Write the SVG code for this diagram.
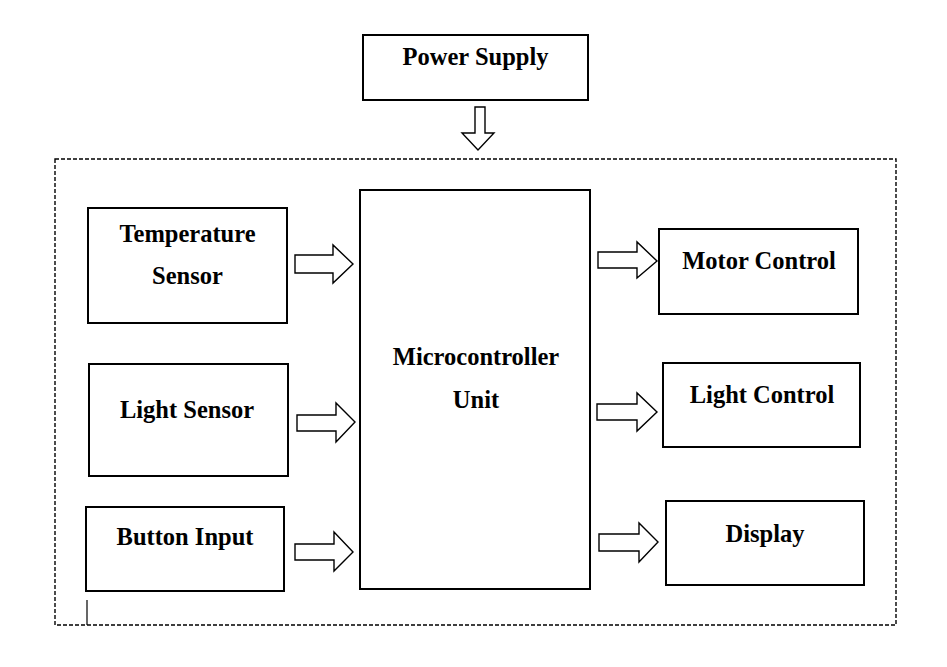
<svg xmlns="http://www.w3.org/2000/svg" width="947" height="667" viewBox="0 0 947 667">
<style>
.box{fill:#fff;stroke:#000;stroke-width:2}
.lbl{font-family:"Liberation Serif","Times New Roman",serif;font-weight:bold;font-size:24.5px;fill:#000;text-anchor:middle}
.arr{fill:#fff;stroke:#000;stroke-width:1.4;stroke-linejoin:miter}
.dash{fill:none;stroke:#000;stroke-width:1.4;stroke-dasharray:4 2}
</style>
<rect width="947" height="667" fill="#fff"/>
<rect id="container" class="dash" x="55" y="159" width="841" height="466"/>
<line x1="87" y1="600" x2="87" y2="625" stroke="#000" stroke-width="1.2"/>
<g id="power-supply">
<rect class="box" x="363" y="35" width="225" height="65"/>
<text class="lbl" x="475.5" y="65">Power Supply</text>
</g>
<g id="temperature-sensor">
<rect class="box" x="88" y="208" width="199" height="115"/>
<text class="lbl" x="187.5" y="242">Temperature</text>
<text class="lbl" x="187.5" y="284">Sensor</text>
</g>
<g id="light-sensor">
<rect class="box" x="89" y="364" width="199" height="112"/>
<text class="lbl" x="187" y="418">Light Sensor</text>
</g>
<g id="button-input">
<rect class="box" x="86" y="507" width="198" height="84"/>
<text class="lbl" x="185" y="545">Button Input</text>
</g>
<g id="mcu">
<rect class="box" x="360" y="190" width="230" height="399"/>
<text class="lbl" x="476" y="365">Microcontroller</text>
<text class="lbl" x="476" y="408">Unit</text>
</g>
<g id="motor-control">
<rect class="box" x="659" y="229" width="199" height="85"/>
<text class="lbl" x="759" y="269">Motor Control</text>
</g>
<g id="light-control">
<rect class="box" x="663" y="363" width="197" height="84"/>
<text class="lbl" x="762" y="403">Light Control</text>
</g>
<g id="display">
<rect class="box" x="666" y="501" width="198" height="84"/>
<text class="lbl" x="765" y="542">Display</text>
</g>
<g id="connectors">
<polygon class="arr" points="475,107 485,107 485,133 494,133 478,150 462,133 475,133"/>
<polygon class="arr" points="295,255 333,255 333,245 353,264 333,283 333,273 295,273"/>
<polygon class="arr" points="297,415 336,415 336,403 355,422 336,442 336,431 297,431"/>
<polygon class="arr" points="295,544 334,544 334,532 353,552 334,571 334,560 295,560"/>
<polygon class="arr" points="598,252 637,252 637,242 657,261 637,278 637,268 598,268"/>
<polygon class="arr" points="597,404 637,404 637,393 657,412 637,431 637,420 597,420"/>
<polygon class="arr" points="599,534 639,534 639,523 658,542 639,562 639,551 599,551"/>
</g>
</svg>
